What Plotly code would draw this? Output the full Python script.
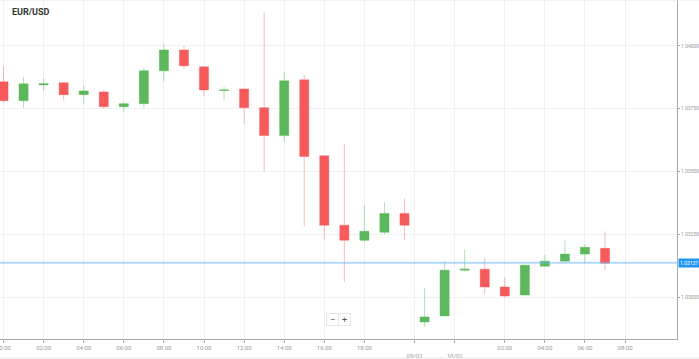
import plotly.graph_objects as go

# ---- data ----
times = ["00:00", "01:00", "02:00", "03:00", "04:00", "05:00", "06:00", "07:00",
         "08:00", "09:00", "10:00", "11:00", "12:00", "13:00", "14:00", "15:00",
         "16:00", "17:00", "18:00", "19:00", "20:00", "22:00", "23:00", "00:00",
         "01:00", "02:00", "03:00", "04:00", "05:00", "06:00", "07:00"]
idx = list(range(len(times)))

open_ = [1.03857, 1.03782, 1.03845, 1.03853, 1.03806, 1.03817, 1.03758, 1.03770,
         1.03901, 1.03984, 1.03917, 1.03823, 1.03829, 1.03754, 1.03643, 1.03865,
         1.03563, 1.03286, 1.03226, 1.03258, 1.03333, 1.02901, 1.02925, 1.03107,
         1.03111, 1.03040, 1.03008, 1.03123, 1.03143, 1.03171, 1.03194]
high = [1.03921, 1.03877, 1.03869, 1.03857, 1.03841, 1.03825, 1.03778, 1.03913,
        1.04008, 1.04000, 1.03917, 1.03837, 1.03829, 1.04135, 1.03897, 1.03885,
        1.03563, 1.03611, 1.03365, 1.03377, 1.03393, 1.03036, 1.03143, 1.03190,
        1.03155, 1.03079, 1.03127, 1.03167, 1.03226, 1.03210, 1.03262]
low = [1.03774, 1.03754, 1.03821, 1.03782, 1.03770, 1.03750, 1.03738, 1.03750,
       1.03861, 1.03909, 1.03802, 1.03782, 1.03690, 1.03500, 1.03619, 1.03282,
       1.03230, 1.03060, 1.03218, 1.03250, 1.03226, 1.02881, 1.02925, 1.03103,
       1.03012, 1.02996, 1.03008, 1.03123, 1.03143, 1.03135, 1.03107]
close = [1.03782, 1.03849, 1.03849, 1.03806, 1.03821, 1.03758, 1.03770, 1.03901,
         1.03984, 1.03921, 1.03825, 1.03825, 1.03754, 1.03643, 1.03861, 1.03560,
         1.03286, 1.03226, 1.03262, 1.03333, 1.03286, 1.02921, 1.03107, 1.03111,
         1.03040, 1.03004, 1.03127, 1.03143, 1.03171, 1.03198, 1.03135]

tick_pos = [0, 2, 4, 6, 8, 10, 12, 14, 16, 18, 20.5, 22.5, 25, 27, 29, 31]
tick_text = ["", "02:00", "04:00", "06:00", "08:00", "10:00", "12:00", "14:00",
             "16:00", "18:00", "<br>09/02", "<br>10/02", "02:00", "04:00", "06:00", "08:00"]
first_tick_label = "00:00"
price_ticks = [1.03000, 1.03250, 1.03500, 1.03750, 1.04000]
last_price = 1.03137
title = "EUR/USD"

fig = go.Figure()
fig.add_trace(go.Candlestick(
    x=idx, open=open_, high=high, low=low, close=close,
    increasing=dict(fillcolor="#5cb85c", line=dict(color="rgba(92,184,92,0.45)", width=1)),
    decreasing=dict(fillcolor="#f65a5b", line=dict(color="rgba(246,90,91,0.4)", width=1)),
    whiskerwidth=0, showlegend=False,
))

fig.add_shape(type="line", xref="paper", yref="y", x0=0, x1=1, y0=last_price, y1=last_price,
              line=dict(color="rgba(100,181,246,0.5)", width=2))

fig.add_annotation(xref="paper", yref="y", x=1, y=last_price, xanchor="left", yanchor="middle",
                   text=f"{last_price:.5f}", showarrow=False, bgcolor="#2196f3",
                   font=dict(size=5, color="white", family="Roboto"), borderpad=1, xshift=1)

# first (clipped) x tick label
fig.add_annotation(xref="x", yref="paper", x=tick_pos[0], y=0, yanchor="top", xanchor="center",
                   yshift=-3, text=first_tick_label, showarrow=False,
                   font=dict(size=6, color="#999999", family="Roboto"))

fig.add_annotation(xref="paper", yref="paper", x=0.015, y=0.985, xanchor="left", yanchor="top",
                   text="<b>" + title + "</b>", showarrow=False,
                   font=dict(size=9, color="#333333", family="Roboto"))

# zoom buttons
for sym, xpx in [("−", 332), ("+", 344)]:
    fig.add_annotation(xref="paper", yref="paper", x=xpx / 677, y=(339 - 319) / 339,
                       xanchor="center", yanchor="middle", text=sym, showarrow=False,
                       font=dict(size=9, color="#555555", family="Roboto"),
                       bgcolor="white", bordercolor="#e6e6e6", borderwidth=1, borderpad=1,
                       width=9, height=9)

# frame lines
fig.add_shape(type="line", xref="paper", yref="paper", x0=-0.01, x1=1.04, y0=1, y1=1,
              line=dict(color="#e8e8e8", width=1))
fig.add_shape(type="line", xref="paper", yref="paper", x0=-0.01, x1=1.04,
              y0=(339 - 358) / 339, y1=(339 - 358) / 339, line=dict(color="#e8e8e8", width=1))

fig.update_layout(
    width=699, height=359,
    margin=dict(l=0, r=22, t=0, b=20),
    paper_bgcolor="white", plot_bgcolor="white",
    boxgap=0.35,
    font=dict(family="Roboto", size=6, color="#999999"),
    xaxis=dict(
        range=[-0.175, 33.59], rangeslider=dict(visible=False),
        tickmode="array", tickvals=tick_pos, ticktext=tick_text,
        showgrid=True, gridcolor="#f1f1f1", gridwidth=1,
        showline=True, linecolor="#aaaaaa", linewidth=1,
        ticks="outside", ticklen=3, tickcolor="#aaaaaa",
        tickfont=dict(size=6, color="#999999"), zeroline=False,
    ),
    yaxis=dict(
        side="right", range=[1.02833, 1.04183],
        tickmode="array", tickvals=price_ticks,
        ticktext=[f"{v:.5f}" for v in price_ticks],
        showgrid=True, gridcolor="#f1f1f1", gridwidth=1,
        showline=True, linecolor="#aaaaaa", linewidth=1,
        ticks="outside", ticklen=2, tickcolor="#aaaaaa",
        tickfont=dict(size=5, color="#999999"), zeroline=False,
    ),
)

fig.write_html("out.html", config={"displayModeBar": False},
               post_script="document.body.style.margin='0';document.body.style.overflow='hidden';")
